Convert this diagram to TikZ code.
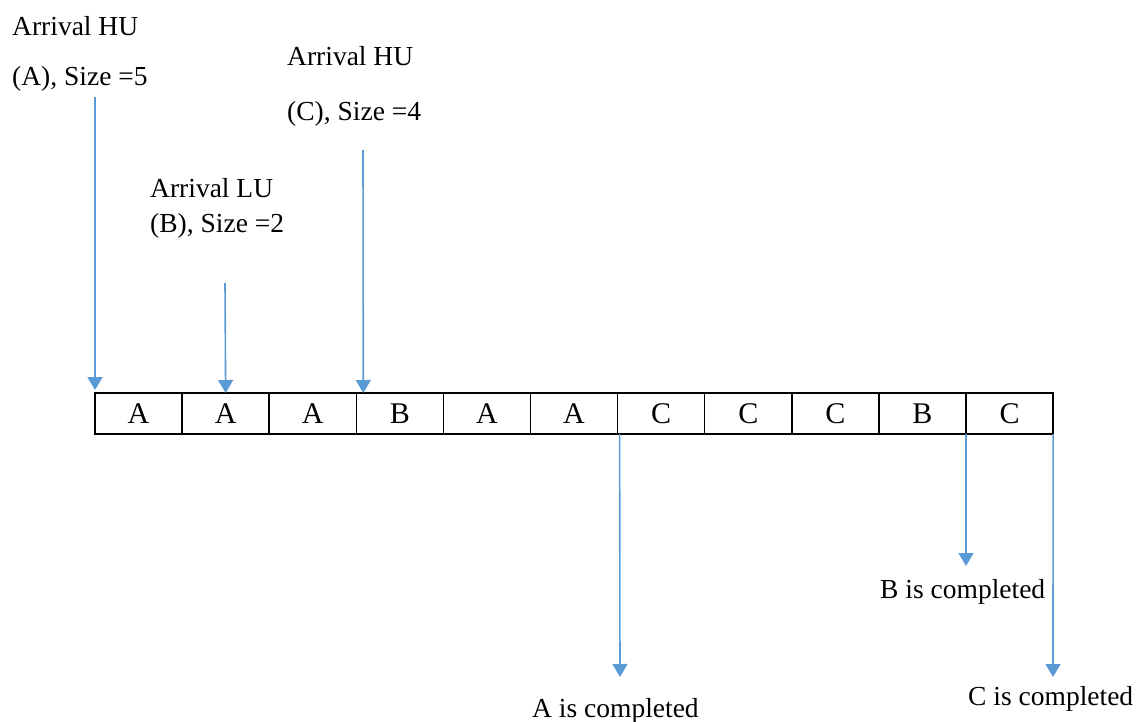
\documentclass[tikz,border=0pt]{standalone}
\usepackage{fontspec}
\setmainfont{Liberation Serif}
\usetikzlibrary{arrows.meta,calc}
\definecolor{arrowblue}{HTML}{5B9BD5}
\tikzset{
  cell/.style={draw=black, line width=1.5pt, minimum width=87.1pt, minimum height=41pt, inner sep=0pt, outer sep=0pt, font=\fontsize{30}{34}\selectfont, anchor=north west},
  lbl/.style={inner sep=0pt, anchor=base west, font=\fontsize{27.5}{31}\selectfont},
  flow/.style={draw=arrowblue, line width=1.6pt, -{Triangle[width=15pt,length=13pt]}}
}
\begin{document}
\begin{tikzpicture}[x=1pt,y=-1pt]
\useasboundingbox (0,0) rectangle (1146,722);
% cells
\foreach \t [count=\i] in {A,A,A,B,A,A,C,C,C,B,C} {
  \node[cell] (c\i) at ({95+(\i-1)*87.1},393) {\t};
}
% labels
\node[lbl] (la1) at (12,36) {Arrival HU};
\node[lbl] (la2) at (12,86) {(A), Size =5};
\node[lbl] (lc1) at (287,66) {Arrival HU};
\node[lbl] (lc2) at (287,121) {(C), Size =4};
\node[lbl] (lb1) at (150,198) {Arrival LU};
\node[lbl] (lb2) at (150,233) {(B), Size =2};
\node[lbl] (db) at (880,598) {B is completed};
\node[lbl] (da) at (532,717) {A is completed};
\node[lbl] (dc) at (968,705) {C is completed};
% arrow start points
\coordinate (sa) at (95,97);
\coordinate (sb) at (225,283);
\coordinate (sc) at (363,150);
\coordinate (ea) at (620,677);
\coordinate (eb) at (966,566);
\coordinate (ec) at (1053,677);
% arrival arrows
\draw[flow] (sa) -- ($(c1.north west)+(0,-3)$);
\draw[flow] (sb) -- (c2.north);
\draw[flow] (sc) -- ($(c4.north west)+(7,0)$);
% completion arrows
\draw[flow] ($(c6.south east)+(2,0)$) -- (ea);
\draw[flow] (c10.south east) -- (eb);
\draw[flow] (c11.south east) -- (ec);
\end{tikzpicture}
\end{document}
